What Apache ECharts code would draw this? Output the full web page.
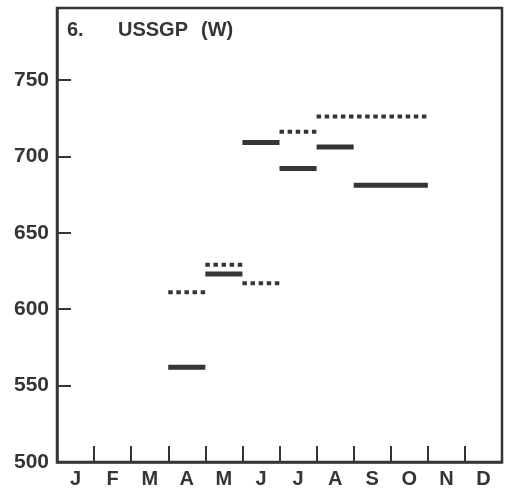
<!DOCTYPE html>
<html>
<head>
<meta charset="utf-8">
<script src="https://cdn.jsdelivr.net/npm/echarts@6/dist/echarts.min.js"></script>
<style>
  html, body { margin: 0; padding: 0; background: #fff; }
  #chart { width: 506px; height: 494px; }
</style>
</head>
<body>
<div id="chart"></div>
<script>
// Month labels along the bottom axis
const months = ['J', 'F', 'M', 'A', 'M', 'J', 'J', 'A', 'S', 'O', 'N', 'D'];

// Solid bars: month index where each bar starts / ends, and level (W)
const solidStart = [3, 4, 5, 6, 7, 8];
const solidEnd   = [4, 5, 6, 7, 8, 10];
const solidValue = [562, 623, 709, 692, 706, 681];

// Dotted bars: month index where each bar starts / ends, and level (W)
const dotStart = [3, 4, 5, 6, 7];
const dotEnd   = [4, 5, 6, 7, 10];
const dotValue = [611, 629, 617, 716, 726];

// Y-axis range
const yMin = 500;
const yMax = 797;
const yStep = 50;

const ink = '#353535';
const font = '"Liberation Sans", Arial, sans-serif';

function segment(x0, x1, v, style) {
  return {
    type: 'line',
    xAxisIndex: 1,
    yAxisIndex: 0,
    data: [[x0, v], [x1, v]],
    symbol: 'none',
    silent: true,
    lineStyle: style,
    z: 3
  };
}

const series = [];
solidValue.forEach((v, i) => {
  series.push(segment(solidStart[i], solidEnd[i], v, {
    color: ink, width: 5, cap: 'butt'
  }));
});
dotValue.forEach((v, i) => {
  series.push(segment(dotStart[i], dotEnd[i], v, {
    color: ink, width: 4, type: [4.5, 3.6], cap: 'butt'
  }));
});

const chart = echarts.init(document.getElementById('chart'), null, { renderer: 'canvas' });
chart.setOption({
  backgroundColor: '#fff',
  animation: false,
  grid: {
    left: 57, right: 4, top: 8, bottom: 32,
    show: true, borderColor: ink, borderWidth: 2.5, backgroundColor: 'transparent'
  },
  graphic: [
    { type: 'text', left: 67, top: 20, style: { text: '6.', font: 'bold 20px ' + font, fill: ink } },
    { type: 'text', left: 118, top: 20, style: { text: 'USSGP', font: 'bold 20px ' + font, fill: ink } },
    { type: 'text', left: 201, top: 20, style: { text: '(W)', font: 'bold 20px ' + font, fill: ink } }
  ],
  xAxis: [
    {
      type: 'category',
      data: months,
      boundaryGap: true,
      axisLine: { show: true, lineStyle: { color: ink, width: 2.5 } },
      axisTick: { show: true, inside: true, length: 16, interval: 0, lineStyle: { color: ink, width: 2 } },
      axisLabel: { color: ink, fontSize: 20, fontWeight: 'bold', fontFamily: font, margin: 7, interval: 0 },
      splitLine: { show: false }
    },
    {
      type: 'value',
      min: 0,
      max: 12,
      show: false
    }
  ],
  yAxis: {
    type: 'value',
    min: yMin,
    max: yMax,
    interval: yStep,
    axisLine: { show: true, lineStyle: { color: ink, width: 2.5 } },
    axisTick: { show: true, inside: true, length: 14, lineStyle: { color: ink, width: 2 } },
    axisLabel: {
      color: ink, fontSize: 21, fontWeight: 'bold', fontFamily: font, margin: 8,
      showMaxLabel: false,
      formatter: v => (v % yStep === 0 ? String(v) : '')
    },
    splitLine: { show: false }
  },
  series: series
});
</script>
</body>
</html>
